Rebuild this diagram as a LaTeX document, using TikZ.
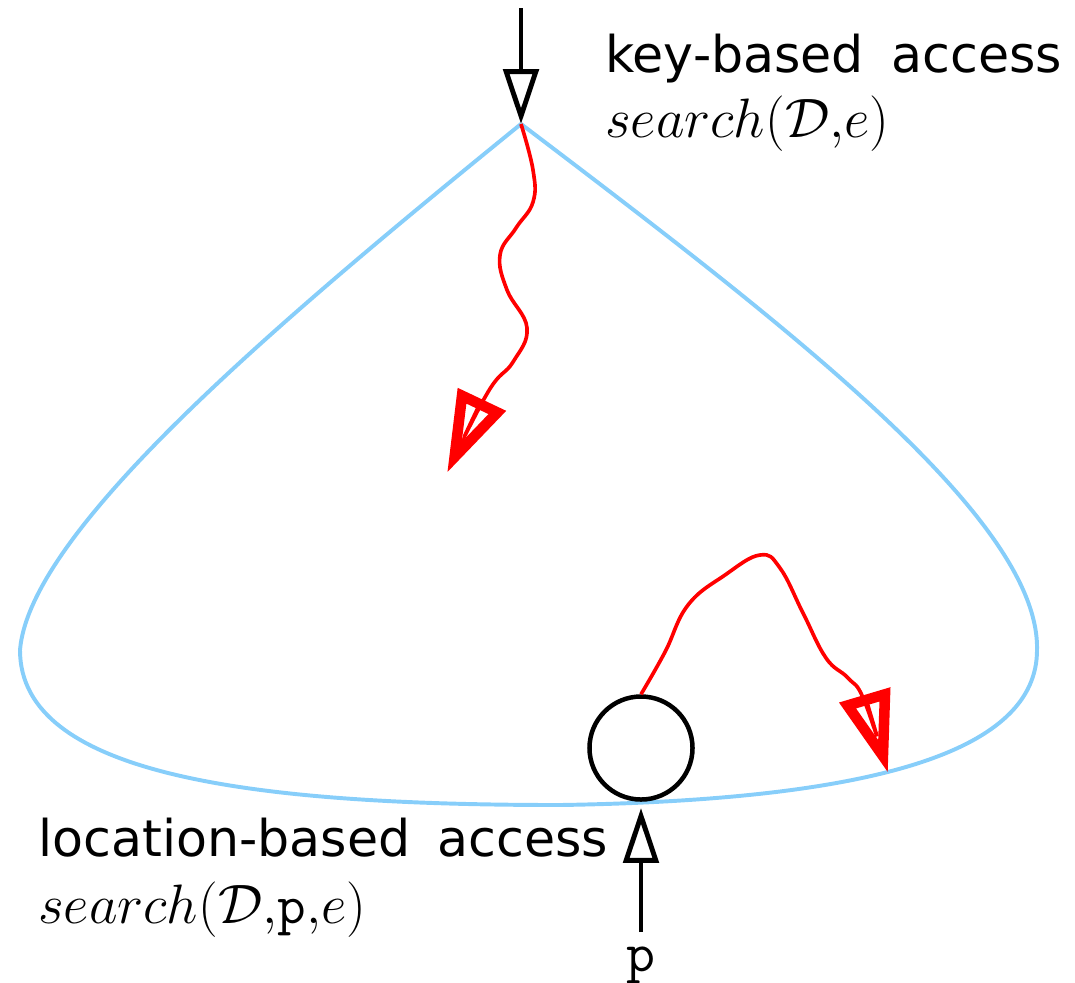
\RequirePackage{fix-cm}
\documentclass[tikz,border=0pt]{standalone}
\usepackage{fontspec}
\newfontfamily\lblfont{DejaVu Sans}[WordSpace=1.7]
\usetikzlibrary{arrows.meta}
\definecolor{hullblue}{RGB}{135,206,250}
\begin{document}
\begin{tikzpicture}[x=0.025cm,y=-0.025cm,
  lbl/.style={font=\fontsize{36}{44}\selectfont\lblfont, inner sep=0pt, anchor=base west},
  op/.style={font=\fontsize{39.5}{47}\selectfont, inner sep=0pt, anchor=base west},
  feed/.style={line width=3.5pt, -{Triangle[open,length=39pt,width=25pt]}},
  walk/.style={red, line width=2.6pt, -{Triangle[open,length=58pt,width=36pt,line width=7.5pt]}},
  hull/.style={draw=hullblue, line width=2.8pt}]
\useasboundingbox (0,0) rectangle (1075,982);

% outline of the structure
\coordinate (apex) at (521,124);
\path[hull] (apex)
  .. controls (280,320) and (30,530) .. (20,650)
  .. controls (20,775) and (250,805) .. (560,805)
  .. controls (880,800) and (1037,750) .. (1037,650)
  .. controls (1040,520) and (790,328) .. (apex);

% located element
\node[circle, draw, line width=3.2pt, minimum size=2.575cm, inner sep=0pt] (loc) at (641,748) {};

% entry points
\coordinate (topin) at (521,8);
\draw[feed] (topin) -- (apex);
\node[font=\fontsize{40}{48}\selectfont\ttfamily, inner sep=0pt, anchor=base] (p) at (641,971) {p};
\coordinate (botin) at (641,932);
\coordinate (bottip) at (641,808);
\draw[feed] (botin) -- (bottip);

% search walks
\coordinate (walkend) at (447,473);
\draw[walk] plot[smooth, tension=0.7] coordinates {(apex) (533,170) (533,202) (516,228) (500,255) (507,290) (527,328) (513,362) (488,392) (walkend)};
\coordinate (locend) at (888,773);
\draw[walk] plot[smooth, tension=0.7] coordinates {(loc.north) (665,652) (688,605) (725,575) (760,555) (780,568) (803,613) (826,658) (848,678) (864,700) (locend)};

% labels
\node[lbl] (keylbl) at (605,72) {key-based access};
\node[op] (keyop) at (605,137) {$search(\mathcal{D}{,}e)$};
\node[lbl] (loclbl) at (38,856) {location-based access};
\node[op] (locop) at (38,923) {$search(\mathcal{D}{,}\mathtt{p}{,}e)$};
\end{tikzpicture}
\end{document}
